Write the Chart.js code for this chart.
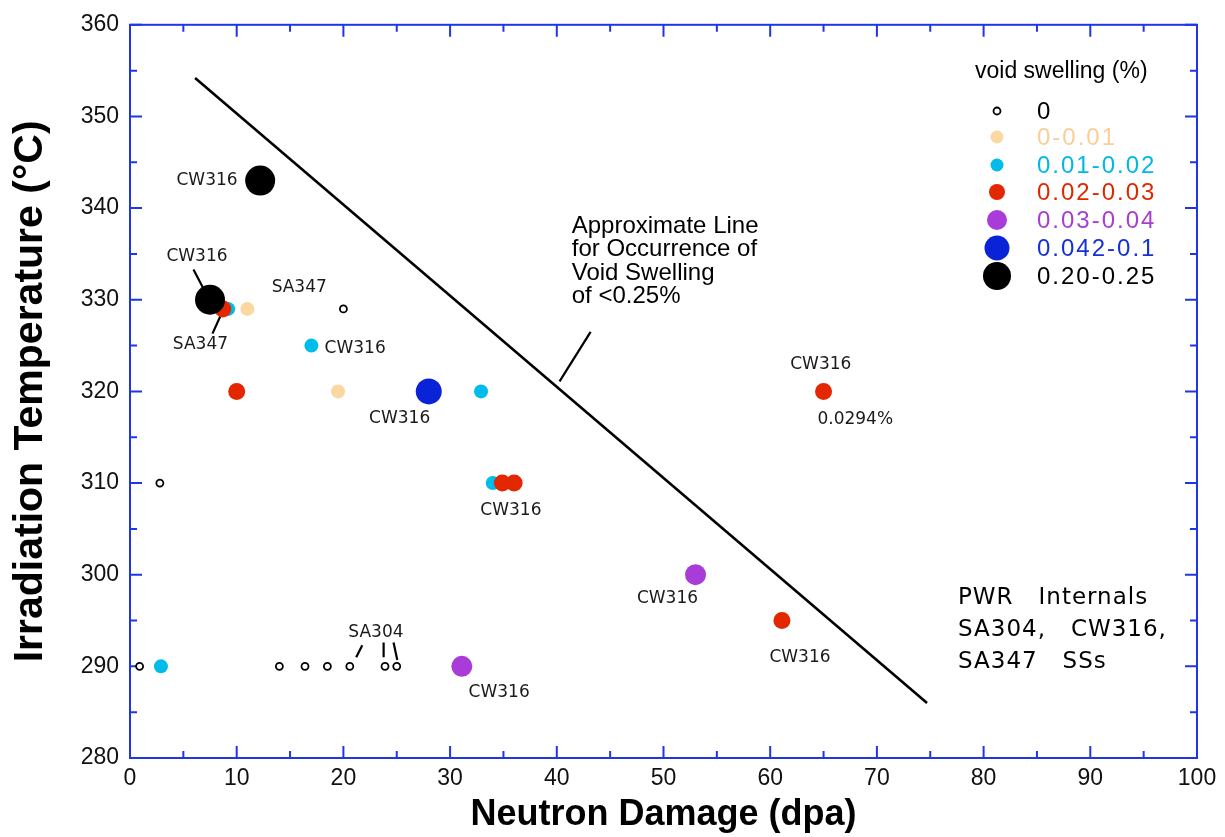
<!DOCTYPE html>
<html><head><meta charset="utf-8">
<script src="https://cdn.jsdelivr.net/npm/chart.js@4.4.0/dist/chart.umd.min.js"></script>
<style>html,body{margin:0;padding:0;background:#fff;}canvas{display:block;}</style>
</head><body>
<canvas id="c" width="1225" height="837"></canvas>
<script>
// ---- data ----
const swellClasses = ['0', '0-0.01', '0.01-0.02', '0.02-0.03', '0.03-0.04', '0.042-0.1', '0.20-0.25'];
const dpaNone  = [0.9, 2.8, 20.0, 14.0, 16.4, 18.5, 20.6, 23.9, 25.0];
const tempNone = [290, 310, 329, 290, 290, 290, 290, 290, 290];
const dpaPeach  = [11.0, 19.5];
const tempPeach = [329, 320];
const dpaCyan  = [9.2, 17.0, 32.9, 34.0, 2.9];
const tempCyan = [329, 325, 320, 310, 290];
const dpaRed  = [8.7, 10.0, 34.9, 36.0, 65.0, 61.1];
const tempRed = [329, 320, 310, 310, 320, 295];
const dpaPurple  = [53.0, 31.1];
const tempPurple = [300, 290];
const dpaBlue  = [28.0];
const tempBlue = [320];
const dpaBlack  = [12.2, 7.5];
const tempBlack = [343, 330];
const limitDpa  = [6.1, 74.7];
const limitTemp = [354.2, 286.0];
const xTickValues = [0, 10, 20, 30, 40, 50, 60, 70, 80, 90, 100];
const yTickValues = [280, 290, 300, 310, 320, 330, 340, 350, 360];
// leader lines (data coords)
const leaderDpa  = [[5.95, 6.89], [8.58, 7.73], [21.77, 21.2], [23.77, 23.77], [24.7, 25.05], [40.26, 43.17]];
const leaderTemp = [[333.3, 331.2], [328.5, 326.3], [292.3, 291.0], [292.6, 291.0], [292.6, 290.7], [321.1, 326.5]];
// point annotations
const noteText = ['CW316', 'CW316', 'SA347', 'SA347', 'CW316', 'CW316', 'CW316', 'CW316', '0.0294%', 'CW316', 'CW316', 'CW316', 'SA304'];
const noteDpa  = [7.22, 6.28, 15.86, 6.6, 21.1, 25.27, 35.7, 64.74, 67.97, 50.37, 62.79, 34.6, 23.05];
const noteTemp = [343.0, 334.67, 331.3, 325.1, 324.7, 317.0, 307.03, 322.97, 316.9, 297.36, 291.0, 287.1, 293.73];
const lineNote = ['Approximate Line', 'for Occurrence of', 'Void Swelling', 'of <0.25%'];
const boxNote = ['PWR   Internals', 'SA304,   CW316,', 'SA347   SSs'];

// ---- styles ----
const colors = ['#000000', '#FBD7A1', '#00BCEA', '#E32700', '#A93BD9', '#0A23D6', '#000000'];
const textColors = ['#000000', '#F8CF98', '#00B8E8', '#E02800', '#A63ED6', '#1630D8', '#000000'];
const radii = [3.5, 7, 7, 8.5, 10.5, 13, 15];
const legendRadii = [3.5, 6.5, 6.5, 8, 10, 12.5, 14];
const AXIS = '#1f36e6';

function pts(xs, ys) { return xs.map((x, i) => ({x: x, y: ys[i]})); }
const seriesX = [dpaNone, dpaPeach, dpaCyan, dpaRed, dpaPurple, dpaBlue, dpaBlack];
const seriesY = [tempNone, tempPeach, tempCyan, tempRed, tempPurple, tempBlue, tempBlack];

const datasets = [];
seriesX.forEach((xs, i) => {
  datasets.push({
    label: swellClasses[i],
    data: pts(xs, seriesY[i]),
    pointRadius: radii[i],
    pointHoverRadius: radii[i],
    backgroundColor: i === 0 ? '#ffffff' : colors[i],
    borderColor: colors[i],
    borderWidth: i === 0 ? 1.8 : 0,
    showLine: false,
    order: 7 - i
  });
});
datasets.push({
  label: 'limit', data: pts(limitDpa, limitTemp), showLine: true, pointRadius: 0,
  borderColor: '#000', borderWidth: 2.6, order: 10
});
leaderDpa.forEach((xs, i) => {
  datasets.push({
    label: 'leader' + i, data: pts(xs, leaderTemp[i]), showLine: true, pointRadius: 0,
    borderColor: '#000', borderWidth: 2.2, order: 9
  });
});

const framePlugin = {
  id: 'frame',
  beforeDatasetsDraw(chart) {
    const {ctx, chartArea: a, scales: {x, y}} = chart;
    ctx.save();
    ctx.strokeStyle = AXIS;
    ctx.lineWidth = 2;
    ctx.strokeRect(a.left, a.top, a.right - a.left, a.bottom - a.top);
    ctx.beginPath();
    for (let v = 0; v <= 100; v += 5) {
      const px = x.getPixelForValue(v);
      const L = v % 10 === 0 ? 12 : 7;
      ctx.moveTo(px, a.bottom); ctx.lineTo(px, a.bottom - L);
      ctx.moveTo(px, a.top); ctx.lineTo(px, a.top + L);
    }
    for (let v = 280; v <= 360; v += 5) {
      const py = y.getPixelForValue(v);
      const L = v % 10 === 0 ? 12 : 7;
      ctx.moveTo(a.left, py); ctx.lineTo(a.left + L, py);
      ctx.moveTo(a.right, py); ctx.lineTo(a.right - L, py);
    }
    ctx.stroke();
    ctx.restore();
  },
  afterDraw(chart) {
    const {ctx, scales: {x, y}} = chart;
    ctx.save();
    // point annotations
    ctx.fillStyle = '#1a1a1a';
    ctx.font = '17px "DejaVu Sans"';
    ctx.textAlign = 'center';
    ctx.textBaseline = 'middle';
    noteText.forEach((t, i) => ctx.fillText(t, x.getPixelForValue(noteDpa[i]), y.getPixelForValue(noteTemp[i])));
    // line annotation
    ctx.fillStyle = '#000';
    ctx.font = '24px "Liberation Sans"';
    ctx.textAlign = 'left';
    const lx = x.getPixelForValue(41.4);
    lineNote.forEach((t, i) => ctx.fillText(t, lx, y.getPixelForValue(338.0) + i * 23.3));
    // box note
    ctx.font = '23px "DejaVu Sans"';
    ctx.letterSpacing = '1px';
    const bx = x.getPixelForValue(77.6);
    boxNote.forEach((t, i) => ctx.fillText(t, bx, y.getPixelForValue(297.5) + i * 32));
    // legend
    ctx.letterSpacing = '0px';
    ctx.font = '23px "Liberation Sans"';
    ctx.fillStyle = '#000';
    ctx.fillText('void swelling (%)', 975, 72);
    const rows = [111, 137, 165, 192, 220, 248, 276];
    ctx.font = '24px "Liberation Sans"';
    ctx.letterSpacing = '2px';
    swellClasses.forEach((c, i) => {
      ctx.beginPath();
      ctx.arc(997, rows[i], legendRadii[i], 0, Math.PI * 2);
      if (i === 0) {
        ctx.fillStyle = '#fff'; ctx.fill();
        ctx.lineWidth = 1.8; ctx.strokeStyle = '#000'; ctx.stroke();
      } else {
        ctx.fillStyle = colors[i]; ctx.fill();
      }
      ctx.fillStyle = textColors[i];
      ctx.fillText(c, 1037, rows[i] + 1);
    });
    ctx.restore();
  }
};

new Chart(document.getElementById('c'), {
  type: 'scatter',
  data: {datasets: datasets},
  options: {
    responsive: false,
    animation: false,
    devicePixelRatio: 1,
    layout: {padding: {left: 0, top: 22, right: 28, bottom: 0}},
    plugins: {legend: {display: false}, tooltip: {enabled: false}},
    scales: {
      x: {
        type: 'linear', min: 0, max: 100,
        afterBuildTicks(s) { s.ticks = xTickValues.map(v => ({value: v})); },
        afterFit(s) { s.height = 79; },
        grid: {display: false, drawTicks: false},
        border: {display: false},
        ticks: {color: '#111', padding: 7, font: {family: 'Liberation Sans', size: 23}, maxRotation: 0},
        title: {display: true, text: 'Neutron Damage (dpa)', color: '#000',
                font: {family: 'Liberation Sans', size: 36, weight: 'bold'}, padding: {top: 0, bottom: 0}}
      },
      y: {
        type: 'linear', min: 280, max: 360,
        afterBuildTicks(s) { s.ticks = yTickValues.map(v => ({value: v})); },
        afterFit(s) { s.width = 130; },
        grid: {display: false, drawTicks: false},
        border: {display: false},
        ticks: {color: '#111', padding: 11, font: {family: 'Liberation Sans', size: 23}},
        title: {display: true, text: 'Irradiation Temperature (°C)', color: '#000',
                font: {family: 'Liberation Sans', size: 41, weight: 'bold'}, padding: {top: 6, bottom: 0}}
      }
    }
  },
  plugins: [framePlugin]
});
</script>
</body></html>
